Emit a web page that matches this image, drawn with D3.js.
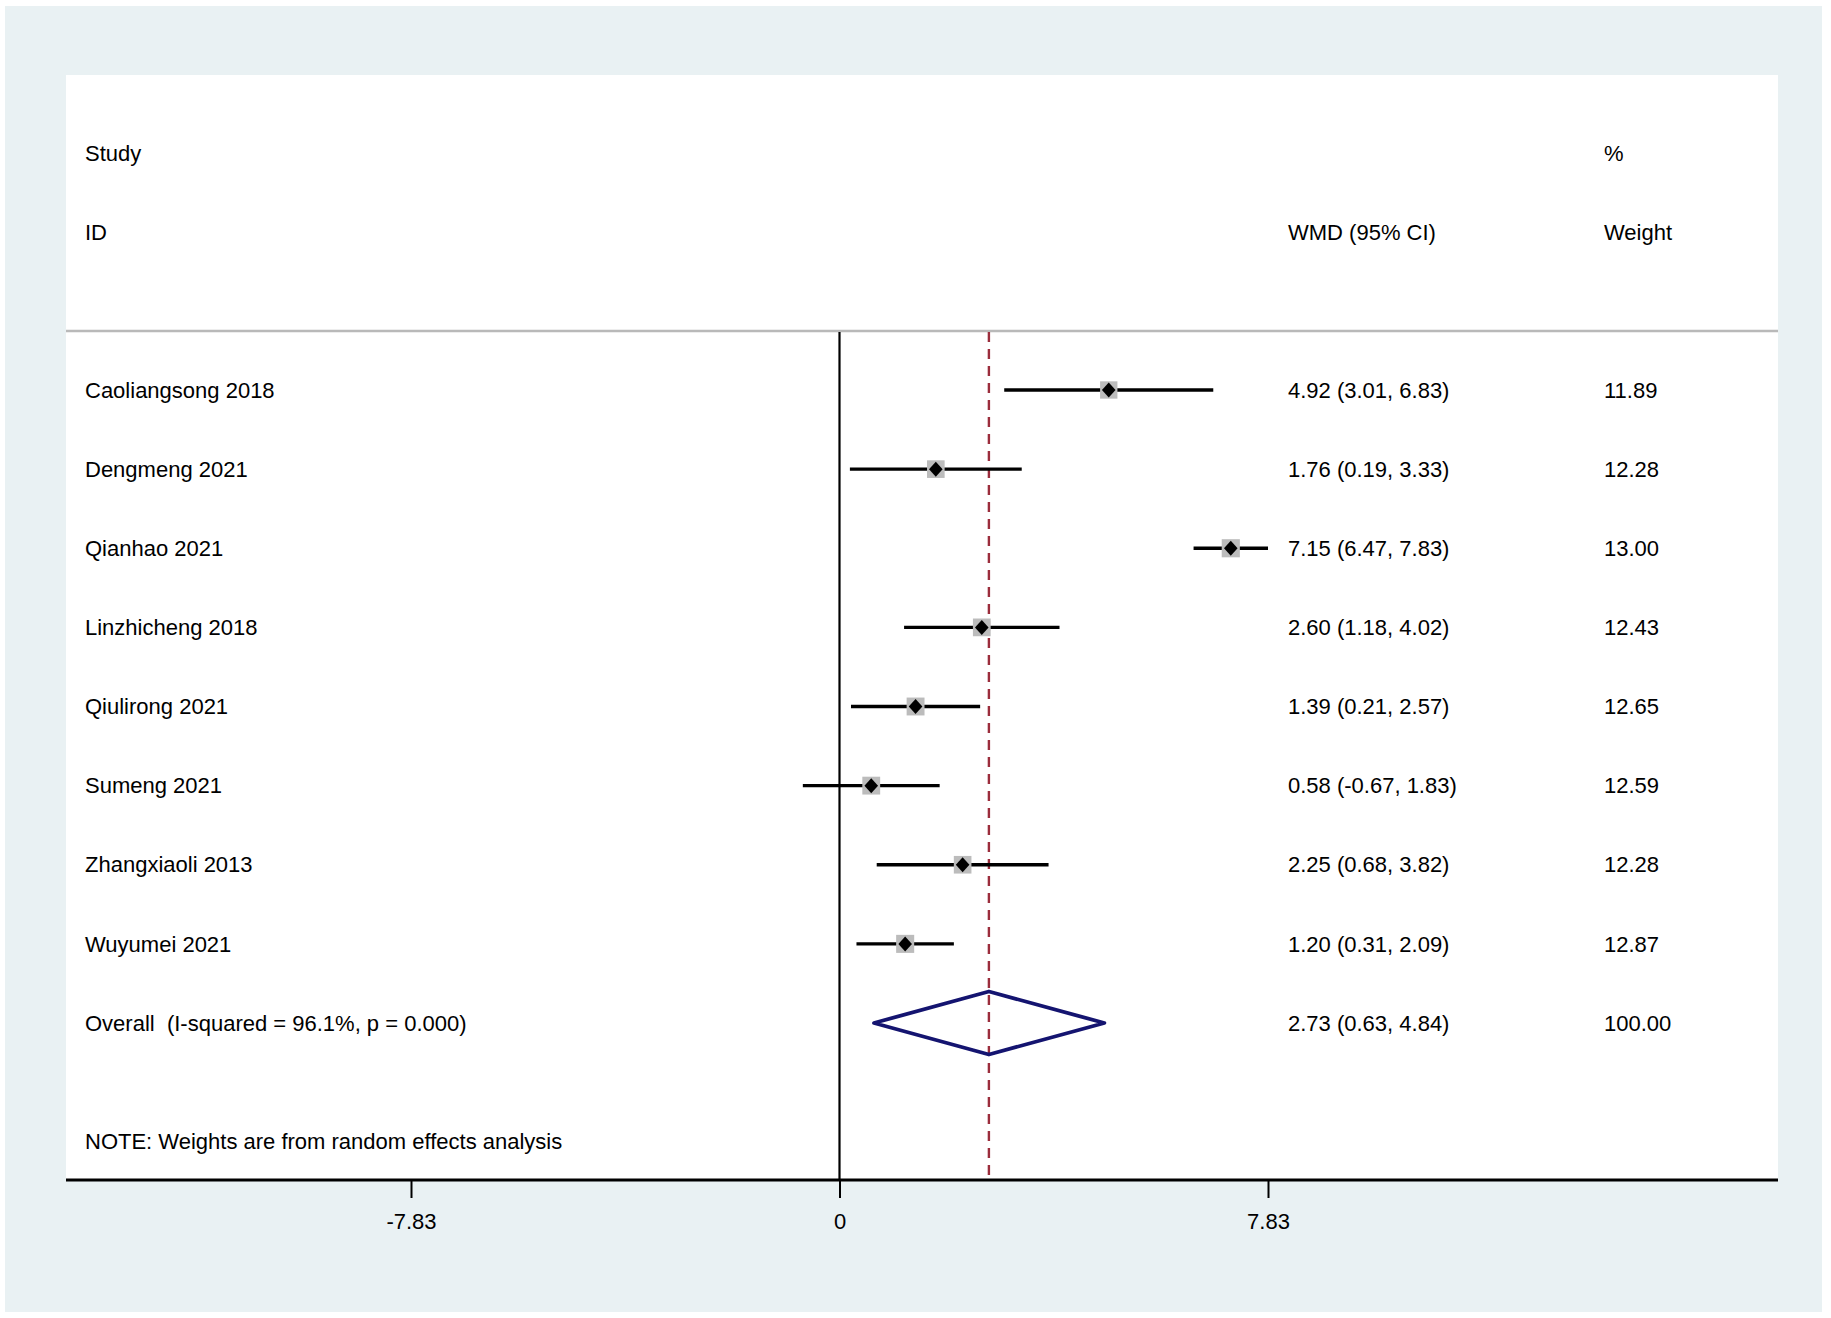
<!DOCTYPE html>
<html>
<head>
<meta charset="utf-8">
<script src="https://cdn.jsdelivr.net/npm/d3@7"></script>
<style>
  html, body { margin: 0; padding: 0; background: #ffffff; }
  svg { display: block; }
  text { font-family: "Liberation Sans", Arial, sans-serif; font-size: 22px; fill: #000; }
</style>
</head>
<body>
<svg id="forest" width="1831" height="1318"></svg>
<script>
const studies = ["Caoliangsong 2018", "Dengmeng 2021", "Qianhao 2021", "Linzhicheng 2018",
                 "Qiulirong 2021", "Sumeng 2021", "Zhangxiaoli 2013", "Wuyumei 2021"];
const estimate = [4.92, 1.76, 7.15, 2.60, 1.39, 0.58, 2.25, 1.20];
const lower = [3.01, 0.19, 6.47, 1.18, 0.21, -0.67, 0.68, 0.31];
const upper = [6.83, 3.33, 7.83, 4.02, 2.57, 1.83, 3.82, 2.09];
const weights = [11.89, 12.28, 13.00, 12.43, 12.65, 12.59, 12.28, 12.87];
const overall = { label: "Overall  (I-squared = 96.1%, p = 0.000)", est: 2.73, lo: 0.63, hi: 4.84, weight: 100.00 };
const tickValues = [-7.83, 0, 7.83];

const svg = d3.select("#forest");
const width = +svg.attr("width");
const height = +svg.attr("height");

const panel = { left: 66, right: 1778, top: 75, bottom: 1180 };
const headerLine = 331;
const col = { label: 85, ci: 1288, weight: 1604 };

const fmt = v => v.toFixed(2);

// outer background
svg.append("rect")
    .attr("x", 5).attr("y", 6)
    .attr("width", width - 14).attr("height", height - 12)
    .attr("fill", "#e9f1f3");

svg.append("rect")
    .attr("x", panel.left).attr("y", panel.top)
    .attr("width", panel.right - panel.left).attr("height", panel.bottom - panel.top)
    .attr("fill", "#ffffff");

const x = d3.scaleLinear().domain([-7.83, 7.83]).range([411, 1268]);
const rowKeys = studies.concat(["overall"]);
const y = d3.scalePoint().domain(rowKeys).range([390, 1023]);

// header
const header = svg.append("g").attr("class", "header");
[["Study", col.label, 153], ["ID", col.label, 232], ["WMD (95% CI)", col.ci, 232],
 ["%", col.weight, 153], ["Weight", col.weight, 232]].forEach(([t, tx, ty]) => {
    header.append("text").attr("x", tx).attr("y", ty).attr("dy", "0.35em").text(t);
});

svg.append("line")
    .attr("x1", panel.left).attr("x2", panel.right)
    .attr("y1", headerLine).attr("y2", headerLine)
    .attr("stroke", "#b9b9b9").attr("stroke-width", 2.5);

// null line and overall line
svg.append("line")
    .attr("x1", x(0)).attr("x2", x(0))
    .attr("y1", headerLine + 1).attr("y2", panel.bottom)
    .attr("stroke", "#000").attr("stroke-width", 2.2);

svg.append("line")
    .attr("x1", x(overall.est)).attr("x2", x(overall.est))
    .attr("y1", headerLine + 1).attr("y2", panel.bottom)
    .attr("stroke", "#9b2d3c").attr("stroke-width", 2.4)
    .attr("stroke-dasharray", "10,7");

// study rows
const rows = studies.map((s, i) => ({
    name: s, est: estimate[i], lo: lower[i], hi: upper[i], w: weights[i]
}));

const rowGroup = svg.append("g").attr("class", "rows");

rowGroup.selectAll(".ci")
    .data(rows)
    .join("line")
    .attr("class", "ci")
    .attr("x1", d => x(d.lo)).attr("x2", d => x(d.hi))
    .attr("y1", d => y(d.name)).attr("y2", d => y(d.name))
    .attr("stroke", "#000").attr("stroke-width", 3.4);

const boxSide = d => 5.03 * Math.sqrt(d.w);

rowGroup.selectAll(".box")
    .data(rows)
    .join("rect")
    .attr("class", "box")
    .attr("x", d => x(d.est) - boxSide(d) / 2)
    .attr("y", d => y(d.name) - boxSide(d) / 2)
    .attr("width", boxSide).attr("height", boxSide)
    .attr("fill", "#bcbcbc");

rowGroup.selectAll(".point")
    .data(rows)
    .join("path")
    .attr("class", "point")
    .attr("transform", d => `translate(${x(d.est)},${y(d.name)})`)
    .attr("d", "M0,-7.5L6.8,0L0,7.5L-6.8,0Z")
    .attr("fill", "#000");

rowGroup.selectAll(".label")
    .data(rows)
    .join("text")
    .attr("class", "label")
    .attr("x", col.label).attr("y", d => y(d.name)).attr("dy", "0.35em")
    .text(d => d.name);

rowGroup.selectAll(".citext")
    .data(rows)
    .join("text")
    .attr("class", "citext")
    .attr("x", col.ci).attr("y", d => y(d.name)).attr("dy", "0.35em")
    .text(d => `${fmt(d.est)} (${fmt(d.lo)}, ${fmt(d.hi)})`);

rowGroup.selectAll(".wtext")
    .data(rows)
    .join("text")
    .attr("class", "wtext")
    .attr("x", col.weight).attr("y", d => y(d.name)).attr("dy", "0.35em")
    .text(d => fmt(d.w));

// overall diamond
const oy = y("overall");
svg.append("path")
    .attr("d", `M${x(overall.lo)},${oy}L${x(overall.est)},${oy - 31.5}L${x(overall.hi)},${oy}L${x(overall.est)},${oy + 31.5}Z`)
    .attr("fill", "none")
    .attr("stroke", "#141470")
    .attr("stroke-width", 3.8)
    .attr("stroke-linejoin", "round");

svg.append("text")
    .attr("x", col.label).attr("y", oy).attr("dy", "0.35em")
    .style("white-space", "pre")
    .attr("xml:space", "preserve")
    .text(overall.label);
svg.append("text")
    .attr("x", col.ci).attr("y", oy).attr("dy", "0.35em")
    .text(`${fmt(overall.est)} (${fmt(overall.lo)}, ${fmt(overall.hi)})`);
svg.append("text")
    .attr("x", col.weight).attr("y", oy).attr("dy", "0.35em")
    .text(fmt(overall.weight));

svg.append("text")
    .attr("x", col.label).attr("y", 1141).attr("dy", "0.35em")
    .text("NOTE: Weights are from random effects analysis");

// x axis
const axis = d3.axisBottom(x)
    .tickValues(tickValues)
    .tickSize(18)
    .tickPadding(26)
    .tickFormat(d => d === 0 ? "0" : fmt(d));

const axisG = svg.append("g")
    .attr("transform", `translate(0,${panel.bottom})`)
    .call(axis);
axisG.select(".domain").remove();
axisG.selectAll(".tick line").attr("stroke", "#000").attr("stroke-width", 2);
axisG.selectAll(".tick text")
    .attr("font-size", null).attr("font-family", null)
    .attr("dy", "0.35em").attr("y", 41)
    .style("fill", "#000");

svg.append("line")
    .attr("x1", panel.left).attr("x2", panel.right)
    .attr("y1", panel.bottom).attr("y2", panel.bottom)
    .attr("stroke", "#000").attr("stroke-width", 3);
</script>
</body>
</html>
